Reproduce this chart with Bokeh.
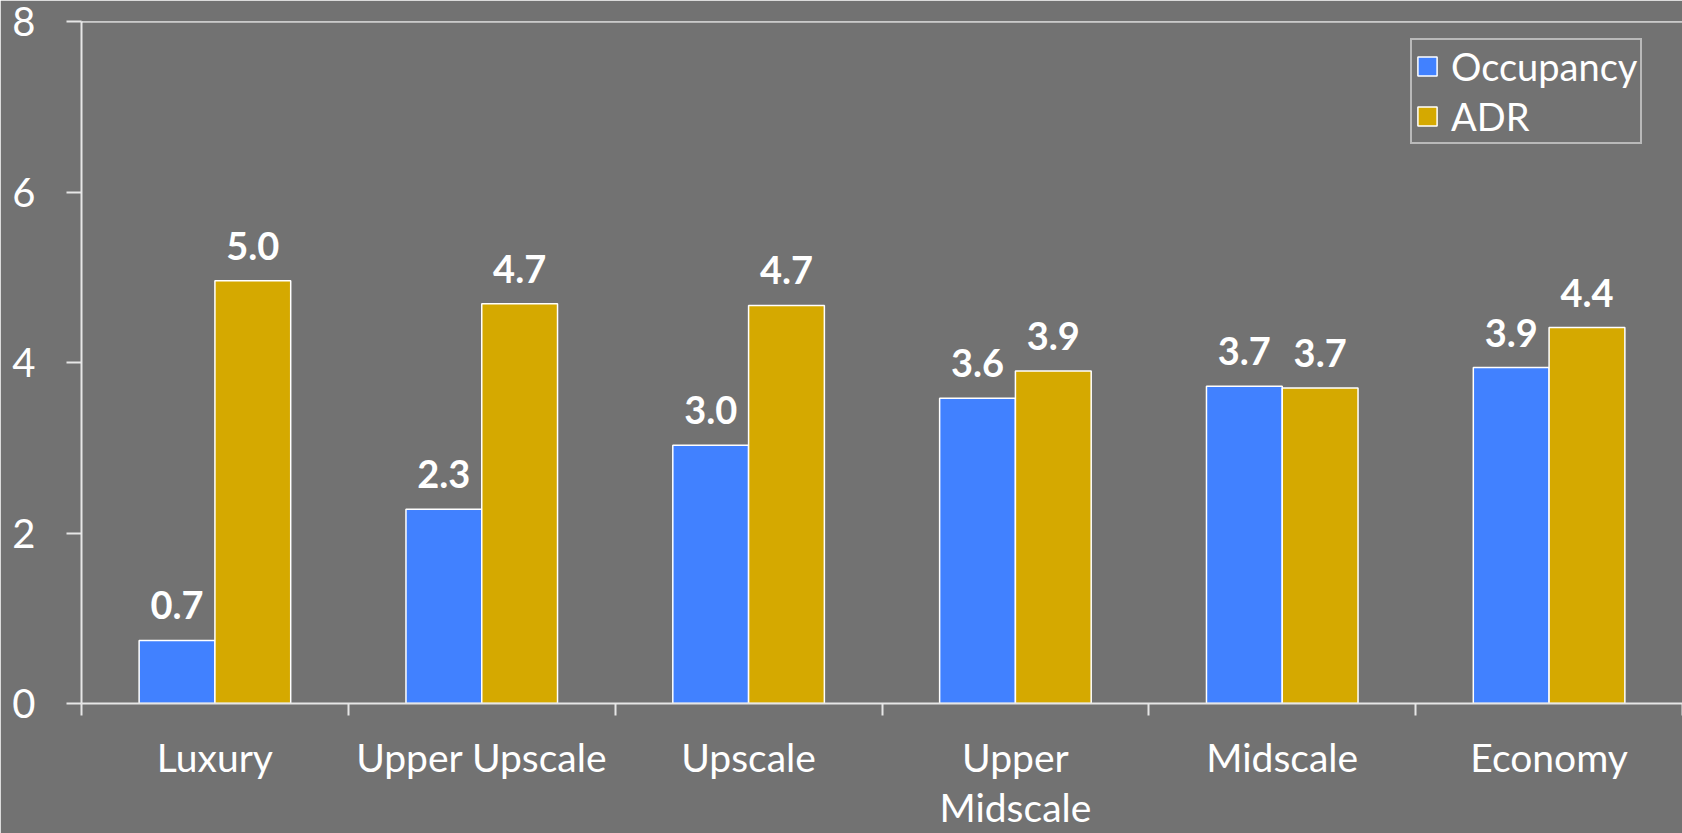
from bokeh.plotting import figure
from bokeh.models import ColumnDataSource, FixedTicker, Span, Legend, LegendItem
from bokeh.core.properties import value
from bokeh.transform import dodge
from bokeh.embed import file_html
from bokeh.resources import INLINE

# ---- data ----
categories = ["Luxury", "Upper Upscale", "Upscale", "Upper Midscale", "Midscale", "Economy"]
tick_labels = ["Luxury", "Upper Upscale", "Upscale", "Upper\nMidscale", "Midscale", "Economy"]
occupancy = [0.74, 2.28, 3.03, 3.58, 3.72, 3.94]
adr = [4.96, 4.69, 4.67, 3.90, 3.70, 4.41]
series_names = ["Occupancy", "ADR"]
y_ticks = [0, 2, 4, 6, 8]

BG = "#727272"
BLUE = "#4181FF"
GOLD = "#D5A900"
AXIS = "#E6E6E6"
FONT = "Lato"

n = len(categories)
centers = [i + 0.5 for i in range(n)]
boundaries = [i for i in range(n + 1)]

src = ColumnDataSource(dict(
    x=centers,
    occ=occupancy,
    adr=adr,
    occ_lbl=[f"{v:.1f}" for v in occupancy],
    adr_lbl=[f"{v:.1f}" for v in adr],
))

p = figure(width=1682, height=833, x_range=(0, n), y_range=(0, 8),
           output_backend="svg", toolbar_location=None,
           min_border_left=81, min_border_right=0, min_border_top=21, min_border_bottom=126,
           background_fill_color=BG, border_fill_color=BG, outline_line_color=None)

bw = 0.284
r_occ = p.vbar(x=dodge("x", -bw / 2), top="occ", width=bw, source=src,
               fill_color=BLUE, line_color="white", line_width=1.5)
r_adr = p.vbar(x=dodge("x", bw / 2), top="adr", width=bw, source=src,
               fill_color=GOLD, line_color="white", line_width=1.5)

for col, lbl, off in (("occ", "occ_lbl", -bw / 2), ("adr", "adr_lbl", bw / 2)):
    p.text(x=dodge("x", off), y=col, text=lbl, source=src,
           text_font=value(FONT), text_font_style="bold", text_font_size="38px",
           text_color="white", text_align="center", text_baseline="alphabetic",
           y_offset=-35)

# top line
p.add_layout(Span(location=8, dimension="width", line_color="white", line_width=2))

p.grid.visible = False

# x axis
xa = p.xaxis[0]
xa.ticker = FixedTicker(ticks=centers, minor_ticks=boundaries)
xa.major_label_overrides = {c: t for c, t in zip(centers, tick_labels)}
xa.major_tick_line_color = None
xa.major_tick_in = 0
xa.major_tick_out = 0
xa.minor_tick_in = 0
xa.minor_tick_out = 12
xa.minor_tick_line_color = AXIS
xa.minor_tick_line_width = 2
xa.axis_line_color = AXIS
xa.axis_line_width = 2
xa.major_label_text_font = FONT
xa.major_label_text_font_size = "39px"
xa.major_label_text_line_height = 1.1
xa.major_label_text_color = "white"
xa.major_label_standoff = 18

# y axis
ya = p.yaxis[0]
ya.ticker = FixedTicker(ticks=y_ticks)
ya.major_tick_in = 0
ya.major_tick_out = 15
ya.minor_tick_line_color = None
ya.major_tick_line_color = AXIS
ya.major_tick_line_width = 2
ya.axis_line_color = AXIS
ya.axis_line_width = 2
ya.major_label_text_font = FONT
ya.major_label_text_font_size = "40px"
ya.major_label_text_line_height = 1.0
ya.major_label_text_color = "white"
ya.major_label_standoff = 31

legend = Legend(items=[LegendItem(label=series_names[0], renderers=[r_occ]),
                       LegendItem(label=series_names[1], renderers=[r_adr])],
                location=(1329, 559),
                label_text_font=FONT, label_text_font_size="38px", label_text_color="white",
                glyph_width=24, glyph_height=24, label_height=24, label_standoff=12,
                spacing=4, padding=3, margin=0,
                border_line_color="white", border_line_width=2,
                background_fill_alpha=0)
p.add_layout(legend)

open("out.html", "w").write(file_html(p, INLINE))
